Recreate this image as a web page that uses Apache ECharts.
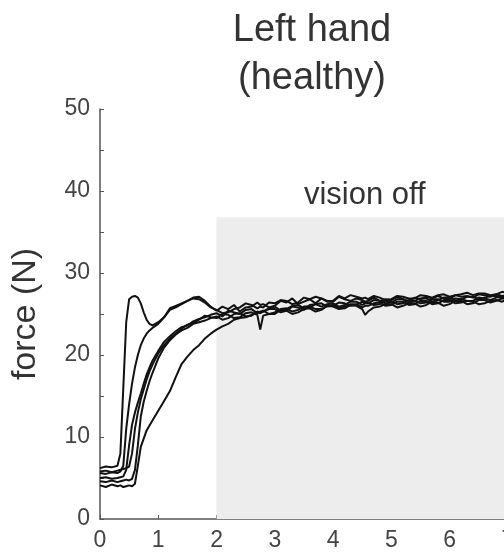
<!DOCTYPE html>
<html>
<head>
<meta charset="utf-8">
<script src="https://cdn.jsdelivr.net/npm/echarts@6/dist/echarts.min.js"></script>
<style>
  html, body { margin: 0; padding: 0; background: #fff; }
  #chart { width: 504px; height: 557px; }
</style>
</head>
<body>
<div id="chart"></div>
<script>
// time (s)
var time = [0, 0.1, 0.2, 0.3, 0.35, 0.4, 0.45, 0.5, 0.55, 0.6, 0.65, 0.7, 0.75, 0.8, 0.85, 0.9,
  1.0, 1.1, 1.2, 1.3, 1.4, 1.5, 1.6, 1.7, 1.8, 1.9,
  2.0, 2.1, 2.2, 2.3, 2.4, 2.5, 2.6, 2.7, 2.75, 2.8, 2.9,
  3.0, 3.1, 3.2, 3.3, 3.4, 3.5, 3.6, 3.7, 3.8, 3.9,
  4.0, 4.1, 4.2, 4.3, 4.4, 4.5, 4.55, 4.6, 4.7, 4.8, 4.9,
  5.0, 5.1, 5.2, 5.3, 5.4, 5.5, 5.6, 5.7, 5.8, 5.9,
  6.0, 6.1, 6.2, 6.3, 6.4, 6.5, 6.6, 6.7, 6.8, 6.9, 7.0, 7.1, 7.2];

// force traces (N)
var trial1 = [6.2, 6.4, 6.3, 6.5, 8, 16, 24, 26.8, 27.1, 27.2, 27.0, 26.3, 25.2, 24.3, 23.8, 23.6,
  24.0, 24.6, 25.5, 25.8, 26.2, 26.6, 27.0, 27.1, 26.6, 25.9,
  25.4, 25.9, 25.6, 26.1, 25.3, 25.8, 25.9, 26.4, 26.1, 26.2, 25.8,
  26.0, 26.6, 26.4, 26.9, 26.2, 26.5, 26.8, 26.3, 26.9, 26.5,
  26.5, 27.1, 26.8, 26.6, 26.9, 26.7, 26.5, 26.6, 27.0, 26.6, 26.8,
  26.7, 27.1, 26.8, 26.6, 27.0, 26.8, 27.1, 26.9, 27.2, 26.9,
  26.8, 27.3, 27.1, 27.2, 27.0, 27.4, 27.3, 27.1, 27.4, 27.2, 27.3, 27.5, 27.2];
var trial2 = [5.6, 5.5, 5.7, 5.6, 5.8, 6.5, 11, 14, 16.5, 18.5, 20, 21.2, 22, 22.6, 23, 23.3,
  23.8, 24.6, 25.7, 26.0, 26.3, 26.6, 26.9, 26.8, 26.4, 25.8,
  25.5, 25.1, 25.2, 25.6, 25.8, 26.3, 26.1, 25.7, 25.9, 25.8, 26.4,
  26.3, 26.7, 26.6, 26.2, 26.4, 27.0, 26.8, 27.1, 26.9, 26.6,
  26.6, 27.2, 26.9, 27.3, 27.1, 26.9, 27.0, 26.8, 27.2, 27.0, 26.7,
  26.8, 27.2, 27.1, 26.9, 26.9, 27.3, 27.2, 27.0, 27.3, 27.4,
  27.1, 27.3, 27.4, 27.6, 27.3, 27.5, 27.5, 27.3, 27.4, 27.7, 27.6, 27.4, 27.5];
var trial3 = [5.0, 5.1, 4.9, 5.0, 5.1, 5.2, 6, 9, 11.5, 13, 14.2, 15.3, 16.5, 17.6, 18.5, 19.3,
  20.5, 21.6, 22.3, 22.9, 23.4, 23.6, 24.1, 24.4, 24.6, 24.9,
  25.1, 24.7, 25.4, 25.2, 25.0, 25.5, 25.6, 25.1, 25.3, 25.3, 25.7,
  25.9, 25.4, 25.6, 26.0, 26.1, 25.7, 25.8, 26.2, 26.3, 25.9,
  26.0, 26.4, 26.3, 26.0, 26.1, 26.5, 26.4, 26.4, 26.1, 26.2, 26.6,
  26.5, 26.2, 26.3, 26.7, 26.6, 26.3, 26.4, 26.8, 26.8, 26.5,
  26.5, 26.9, 26.8, 26.6, 26.6, 27.0, 26.9, 26.7, 27.0, 27.1, 27.0, 26.8, 27.1];
var trial4 = [5.8, 5.9, 5.7, 5.9, 6.0, 6.1, 6.2, 6.4, 8, 11, 13, 14.6, 15.8, 17, 18, 18.8,
  20.2, 21.2, 22.0, 22.6, 23.2, 23.7, 23.9, 24.3, 24.8, 24.6,
  24.5, 25.0, 24.9, 24.5, 24.6, 25.1, 25.2, 24.9, 23.1, 24.8, 25.0,
  25.0, 25.5, 25.4, 25.0, 25.2, 25.6, 25.7, 25.3, 25.5, 26.0,
  25.9, 25.6, 25.7, 26.1, 26.0, 25.6, 24.9, 25.3, 25.8, 25.9, 26.2,
  26.2, 25.8, 26.0, 26.3, 26.3, 25.9, 26.1, 26.5, 26.4, 26.0,
  26.2, 26.6, 26.6, 26.2, 26.3, 26.7, 26.7, 26.4, 26.6, 26.9, 26.9, 26.6, 26.8];
var trial5 = [4.6, 4.5, 4.7, 4.5, 4.6, 4.7, 4.8, 4.7, 4.9, 6, 9, 12.5, 14.3, 15.6, 16.8, 17.8,
  19.6, 20.9, 21.8, 22.5, 23.0, 23.3, 23.8, 24.0, 24.2, 24.5,
  24.7, 24.3, 24.5, 25.0, 25.1, 24.7, 24.8, 25.3, 25.2, 25.4, 25.0,
  25.2, 25.6, 25.7, 25.3, 25.5, 25.9, 25.9, 25.6, 25.6, 26.0,
  26.1, 25.7, 25.9, 26.2, 26.2, 25.8, 26.0, 26.0, 26.3, 26.4, 26.0,
  26.1, 26.5, 26.5, 26.1, 26.2, 26.6, 26.6, 26.2, 26.3, 26.7,
  26.7, 26.3, 26.4, 26.6, 26.5, 26.2, 26.3, 26.6, 26.7, 26.5, 26.8, 26.9, 26.9];
var trial6 = [4.1, 3.9, 4.2, 4.0, 4.1, 3.9, 4.0, 4.1, 4.0, 4.3, 6.5, 8.8, 9.8, 10.8, 11.4, 12.0,
  13.2, 14.4, 15.6, 17.3, 18.9, 19.8, 20.6, 21.2, 22.0, 22.6,
  23.1, 23.5, 23.8, 24.3, 24.5, 24.6, 24.9, 25.2, 25.1, 25.3, 25.6,
  25.6, 25.2, 25.4, 25.9, 25.8, 25.5, 26.1, 26.2, 25.9, 26.2,
  26.3, 25.9, 26.1, 26.5, 26.5, 26.1, 26.3, 26.3, 26.7, 26.6, 26.3,
  26.4, 26.8, 26.8, 26.4, 26.6, 26.9, 26.9, 26.5, 26.7, 27.0,
  27.0, 26.6, 26.8, 27.1, 27.1, 26.8, 27.0, 27.2, 27.2, 26.9, 27.1, 27.4, 27.3];

var trials = [trial1, trial2, trial3, trial4, trial5, trial6];

// vision-off period
var visionOffStart = 2;
var visionOffTop = 36.8;

var xTicks = { min: 0, max: 7.5, interval: 1 };
var yTicks = { min: 0, max: 50, interval: 10 };

var chart = echarts.init(document.getElementById('chart'));

var series = trials.map(function (vals, k) {
  var s = {
    type: 'line',
    data: time.map(function (t, i) { return [t, vals[i]]; }),
    showSymbol: false,
    lineStyle: { color: '#111', width: 2 },
    z: 3
  };
  if (k === 0) {
    s.markArea = {
      silent: true,
      itemStyle: { color: '#ededed' },
      label: {
        show: true,
        position: 'top',
        distance: 6,
        offset: [-12, 0],
        color: '#333',
        fontSize: 31,
        fontFamily: 'Liberation Sans, Arial, sans-serif'
      },
      data: [[
        { name: 'vision off', coord: [visionOffStart, 0] },
        { coord: [xTicks.max, visionOffTop] }
      ]]
    };
  }
  return s;
});

chart.setOption({
  animation: false,
  backgroundColor: '#fff',
  title: {
    text: 'Left hand\n(healthy)',
    left: 307,
    top: 2,
    textAlign: 'center',
    textStyle: {
      color: '#333',
      fontSize: 38,
      fontWeight: 'normal',
      lineHeight: 48,
      fontFamily: 'Liberation Sans, Arial, sans-serif'
    }
  },
  grid: { left: 100, top: 109, bottom: 38, right: -33, outerBoundsMode: 'none' },
  xAxis: {
    type: 'value',
    min: xTicks.min,
    max: xTicks.max,
    interval: xTicks.interval,
    splitLine: { show: false },
    axisLine: { lineStyle: { color: '#555', width: 1.5 } },
    axisTick: { inside: true, length: 4, lineStyle: { color: '#555' } },
    axisLabel: {
      margin: 10,
      color: '#444',
      fontSize: 23,
      fontFamily: 'Liberation Sans, Arial, sans-serif',
      formatter: function (v) { return Number.isInteger(v) ? String(v) : ''; }
    }
  },
  yAxis: {
    type: 'value',
    min: yTicks.min,
    max: yTicks.max,
    interval: yTicks.interval,
    name: 'force (N)',
    nameLocation: 'middle',
    nameRotate: 90,
    nameGap: 57,
    nameTextStyle: {
      color: '#333',
      fontSize: 34,
      fontFamily: 'Liberation Sans, Arial, sans-serif'
    },
    splitLine: { show: false },
    axisLine: { show: true, lineStyle: { color: '#555', width: 1.5 } },
    axisTick: { show: true, inside: true, length: 4, lineStyle: { color: '#555' } },
    minorTick: { show: true, splitNumber: 2, length: 4, lineStyle: { color: '#555' } },
    axisLabel: {
      margin: 10,
      color: '#444',
      fontSize: 23,
      fontFamily: 'Liberation Sans, Arial, sans-serif'
    }
  },
  series: series
});
</script>
</body>
</html>
